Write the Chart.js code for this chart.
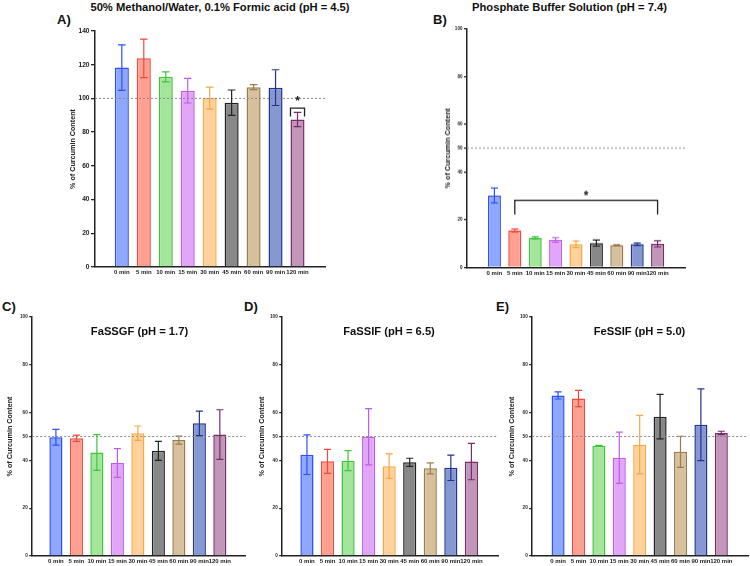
<!DOCTYPE html>
<html>
<head>
<meta charset="utf-8">
<script src="https://cdn.jsdelivr.net/npm/chart.js@4.4.1/dist/chart.umd.min.js"></script>
<style>
    body { margin: 0; background: #fff; width: 750px; height: 566px; position: relative; overflow: hidden;
           font-family: "Liberation Sans", Arial, sans-serif; }
    .panel { position: absolute; }
    .txt { position: absolute; font-weight: bold; color: #111; white-space: nowrap; line-height: 1; }
    .ttl { font-size: 11.2px; transform: translateX(-50%); }
    .let { font-size: 13px; }
</style>
</head>
<body>

<div class="txt ttl" style="left:220px; top:2px;">50% Methanol/Water, 0.1% Formic acid (pH = 4.5)</div>
<div class="txt ttl" style="left:569.5px; top:1.5px;">Phosphate Buffer Solution (pH = 7.4)</div>
<div class="txt let" style="left:57px; top:13px;">A)</div>
<div class="txt let" style="left:433px; top:13px;">B)</div>
<div class="txt let" style="left:2px; top:300px;">C)</div>
<div class="txt let" style="left:244px; top:300px;">D)</div>
<div class="txt let" style="left:496px; top:300px;">E)</div>

<div class="panel" id="boxA"><canvas id="chartA"></canvas></div>
<div class="panel" id="boxB"><canvas id="chartB"></canvas></div>
<div class="panel" id="boxC"><canvas id="chartC"></canvas></div>
<div class="panel" id="boxD"><canvas id="chartD"></canvas></div>
<div class="panel" id="boxE"><canvas id="chartE"></canvas></div>

<div class="txt ttl" style="left:139.5px; top:326px;">FaSSGF (pH = 1.7)</div>
<div class="txt ttl" style="left:389px; top:326px;">FaSSIF (pH = 6.5)</div>
<div class="txt ttl" style="left:639.5px; top:326px;">FeSSIF (pH = 5.0)</div>

<script>
// ---- dados ----
const timePoints = ['0 min', '5 min', '10 min', '15 min', '30 min', '45 min', '60 min', '90 min', '120 min'];

const methanolMean = [118.3, 123.8, 112.8, 104.6, 100.2, 97.5, 106.7, 106.4, 87.5];
const methanolSd   = [13.5, 11.4, 3.0, 7.3, 6.5, 7.5, 1.5, 10.6, 4.2];

const pbsMean = [30.2, 15.5, 12.4, 11.5, 9.7, 10.2, 9.3, 9.7, 9.9];
const pbsSd   = [3.1, 0.6, 0.5, 1.0, 1.4, 1.3, 0.2, 0.5, 1.3];

const fassgfMean = [49.7, 49.3, 43.3, 38.9, 51.4, 44.0, 48.5, 55.5, 50.8];
const fassgfSd   = [3.3, 1.3, 7.5, 6.0, 3.0, 4.0, 1.7, 5.1, 10.4];

const fassifMean = [42.4, 39.6, 39.9, 49.9, 37.6, 39.2, 36.7, 36.9, 39.5];
const fassifSd   = [8.3, 5.0, 4.2, 11.8, 5.1, 1.7, 2.3, 5.3, 7.6];

const fessifMean = [67.2, 65.9, 46.1, 41.1, 46.6, 58.3, 43.6, 54.9, 51.5];
const fessifSd   = [1.5, 3.4, 0.2, 10.7, 12.2, 9.3, 6.5, 15.0, 0.7];

const ticksMethanol = [0, 20, 40, 60, 80, 100, 120, 140];
const ticksMedia    = [0, 20, 40, 50, 60, 80, 100];

// significance brackets: x in category index units, y in % units
const sigMethanol = { from: 7.68, to: 8.32, level: 94.2, leg: 89.3, star: 99.4 };
const sigPbs      = { from: 1, to: 8, level: 28.1, leg: 22.2, star: 30.6 };

// ---- estilos ----
const fillColors   = ['#8fa8ff', '#ffa093', '#a3e69b', '#e1a6f7', '#ffd19c', '#888888', '#d6c09e', '#8797d2', '#c196b9'];
const borderColors = ['#2e50f5', '#f04a3a', '#3fc43a', '#c15ce8', '#f7a844', '#222222', '#9c7b4d', '#22348f', '#7a2b6c'];
const INK = '#222';

Chart.defaults.font.family = '"Liberation Sans", Arial, sans-serif';

// linha de referência, barras de erro e colchetes de significância
const extrasPlugin = {
    id: 'extras',
    afterDatasetsDraw(chart, args, opts) {
        const ctx = chart.ctx;
        const xs = chart.scales.x, ys = chart.scales.y, area = chart.chartArea;
        ctx.save();

        const ry = ys.getPixelForValue(opts.ref);
        ctx.strokeStyle = '#8a8a8a';
        ctx.lineWidth = 1;
        ctx.setLineDash([2, 2]);
        ctx.beginPath();
        ctx.moveTo(area.left, ry);
        ctx.lineTo(area.right, ry);
        ctx.stroke();
        ctx.setLineDash([]);

        chart.getDatasetMeta(0).data.forEach((bar, i) => {
            const m = opts.mean[i], s = opts.sd[i];
            const yt = ys.getPixelForValue(m + s), yb = ys.getPixelForValue(m - s);
            const cap = bar.width * 0.27;
            ctx.strokeStyle = borderColors[i];
            ctx.lineWidth = 1.2;
            ctx.beginPath();
            ctx.moveTo(bar.x, yt); ctx.lineTo(bar.x, yb);
            ctx.moveTo(bar.x - cap, yt); ctx.lineTo(bar.x + cap, yt);
            ctx.moveTo(bar.x - cap, yb); ctx.lineTo(bar.x + cap, yb);
            ctx.stroke();
        });

        const sig = opts.sig;
        if (sig) {
            const x1 = xs.getPixelForValue(sig.from), x2 = xs.getPixelForValue(sig.to);
            const yl = ys.getPixelForValue(sig.level), yg = ys.getPixelForValue(sig.leg);
            ctx.strokeStyle = INK;
            ctx.lineWidth = 1.3;
            ctx.beginPath();
            ctx.moveTo(x1, yg); ctx.lineTo(x1, yl); ctx.lineTo(x2, yl); ctx.lineTo(x2, yg);
            ctx.stroke();
            ctx.fillStyle = INK;
            ctx.font = 'bold 12px "Liberation Sans", Arial, sans-serif';
            ctx.textAlign = 'center';
            ctx.textBaseline = 'middle';
            ctx.fillText('*', (x1 + x2) / 2, ys.getPixelForValue(sig.star) + 2);
        }
        ctx.restore();
    }
};

function makePanel(id, box, mean, sd, cfg) {
    const holder = document.getElementById('box' + id);
    holder.style.left = box.left + 'px';
    holder.style.top = box.top + 'px';
    holder.style.width = box.width + 'px';
    holder.style.height = box.height + 'px';

    const existing = Chart.getChart('chart' + id);
    if (existing) existing.destroy();

    new Chart(document.getElementById('chart' + id), {
        type: 'bar',
        data: {
            datasets: [{
                data: mean.map((v, i) => ({ x: i, y: v })),
                backgroundColor: fillColors,
                borderColor: borderColors,
                borderWidth: 1.5,
                barPercentage: 0.64,
                categoryPercentage: 1
            }]
        },
        options: {
            responsive: true,
            maintainAspectRatio: false,
            animation: false,
            layout: { padding: { top: 8, right: 2, bottom: 0, left: 0 } },
            plugins: {
                legend: { display: false },
                tooltip: { enabled: false },
                extras: { mean: mean, sd: sd, ref: cfg.ref, sig: cfg.sig }
            },
            scales: {
                x: {
                    type: 'linear',
                    min: cfg.xMin,
                    max: cfg.xMax,
                    afterBuildTicks: s => { s.ticks = timePoints.map((t, i) => ({ value: i })); },
                    afterFit: s => { s.height = 14; },
                    grid: { display: false, drawTicks: false, tickLength: 0 },
                    border: { display: true, color: INK, width: 1.5 },
                    ticks: {
                        autoSkip: false, maxRotation: 0, padding: 2, color: INK,
                        font: { size: 6, weight: 'bold' },
                        callback: v => timePoints[v]
                    }
                },
                y: {
                    min: 0,
                    max: cfg.yTicks[cfg.yTicks.length - 1],
                    afterBuildTicks: s => { s.ticks = cfg.yTicks.map(v => ({ value: v })); },
                    afterFit: s => { s.width = box.yW; },
                    grid: { display: true, drawOnChartArea: false, drawTicks: true, tickLength: cfg.tickLen, color: INK, lineWidth: 1.3 },
                    border: { display: true, color: INK, width: 1.5 },
                    ticks: { padding: 1.5, color: INK, font: { size: cfg.tickFont, weight: 'bold' } },
                    title: {
                        display: true, text: '% of Curcumin Content', color: INK, padding: 0,
                        font: { size: 7.2, weight: 'bold', lineHeight: 1.2 }
                    }
                }
            }
        },
        plugins: [extrasPlugin]
    });
}

document.addEventListener('DOMContentLoaded', function() {
    makePanel('A', { left: 69, top: 23, width: 258, height: 258, yW: 26 }, methanolMean, methanolSd,
        { yTicks: ticksMethanol, xMin: -0.64, xMax: 8.67, ref: 100, sig: sigMethanol, tickFont: 6.6, tickLen: 4 });
    makePanel('B', { left: 444, top: 21.3, width: 243, height: 259.4, yW: 23 }, pbsMean, pbsSd,
        { yTicks: ticksMedia, xMin: -0.75, xMax: 8.75, ref: 50, sig: sigPbs, tickFont: 4.6, tickLen: 3 });
    makePanel('C', { left: 5.8, top: 308.7, width: 241.2, height: 261, yW: 26.2 }, fassgfMean, fassgfSd,
        { yTicks: ticksMedia, xMin: -0.58, xMax: 8.66, ref: 50, sig: null, tickFont: 4.6, tickLen: 3 });
    makePanel('D', { left: 257.8, top: 308.7, width: 242.2, height: 261, yW: 24.2 }, fassifMean, fassifSd,
        { yTicks: ticksMedia, xMin: -0.62, xMax: 8.72, ref: 50, sig: null, tickFont: 4.6, tickLen: 3 });
    makePanel('E', { left: 507.8, top: 308.7, width: 242.2, height: 261, yW: 24.2 }, fessifMean, fessifSd,
        { yTicks: ticksMedia, xMin: -0.68, xMax: 8.73, ref: 50, sig: null, tickFont: 4.6, tickLen: 3 });
});
</script>
</body>
</html>
